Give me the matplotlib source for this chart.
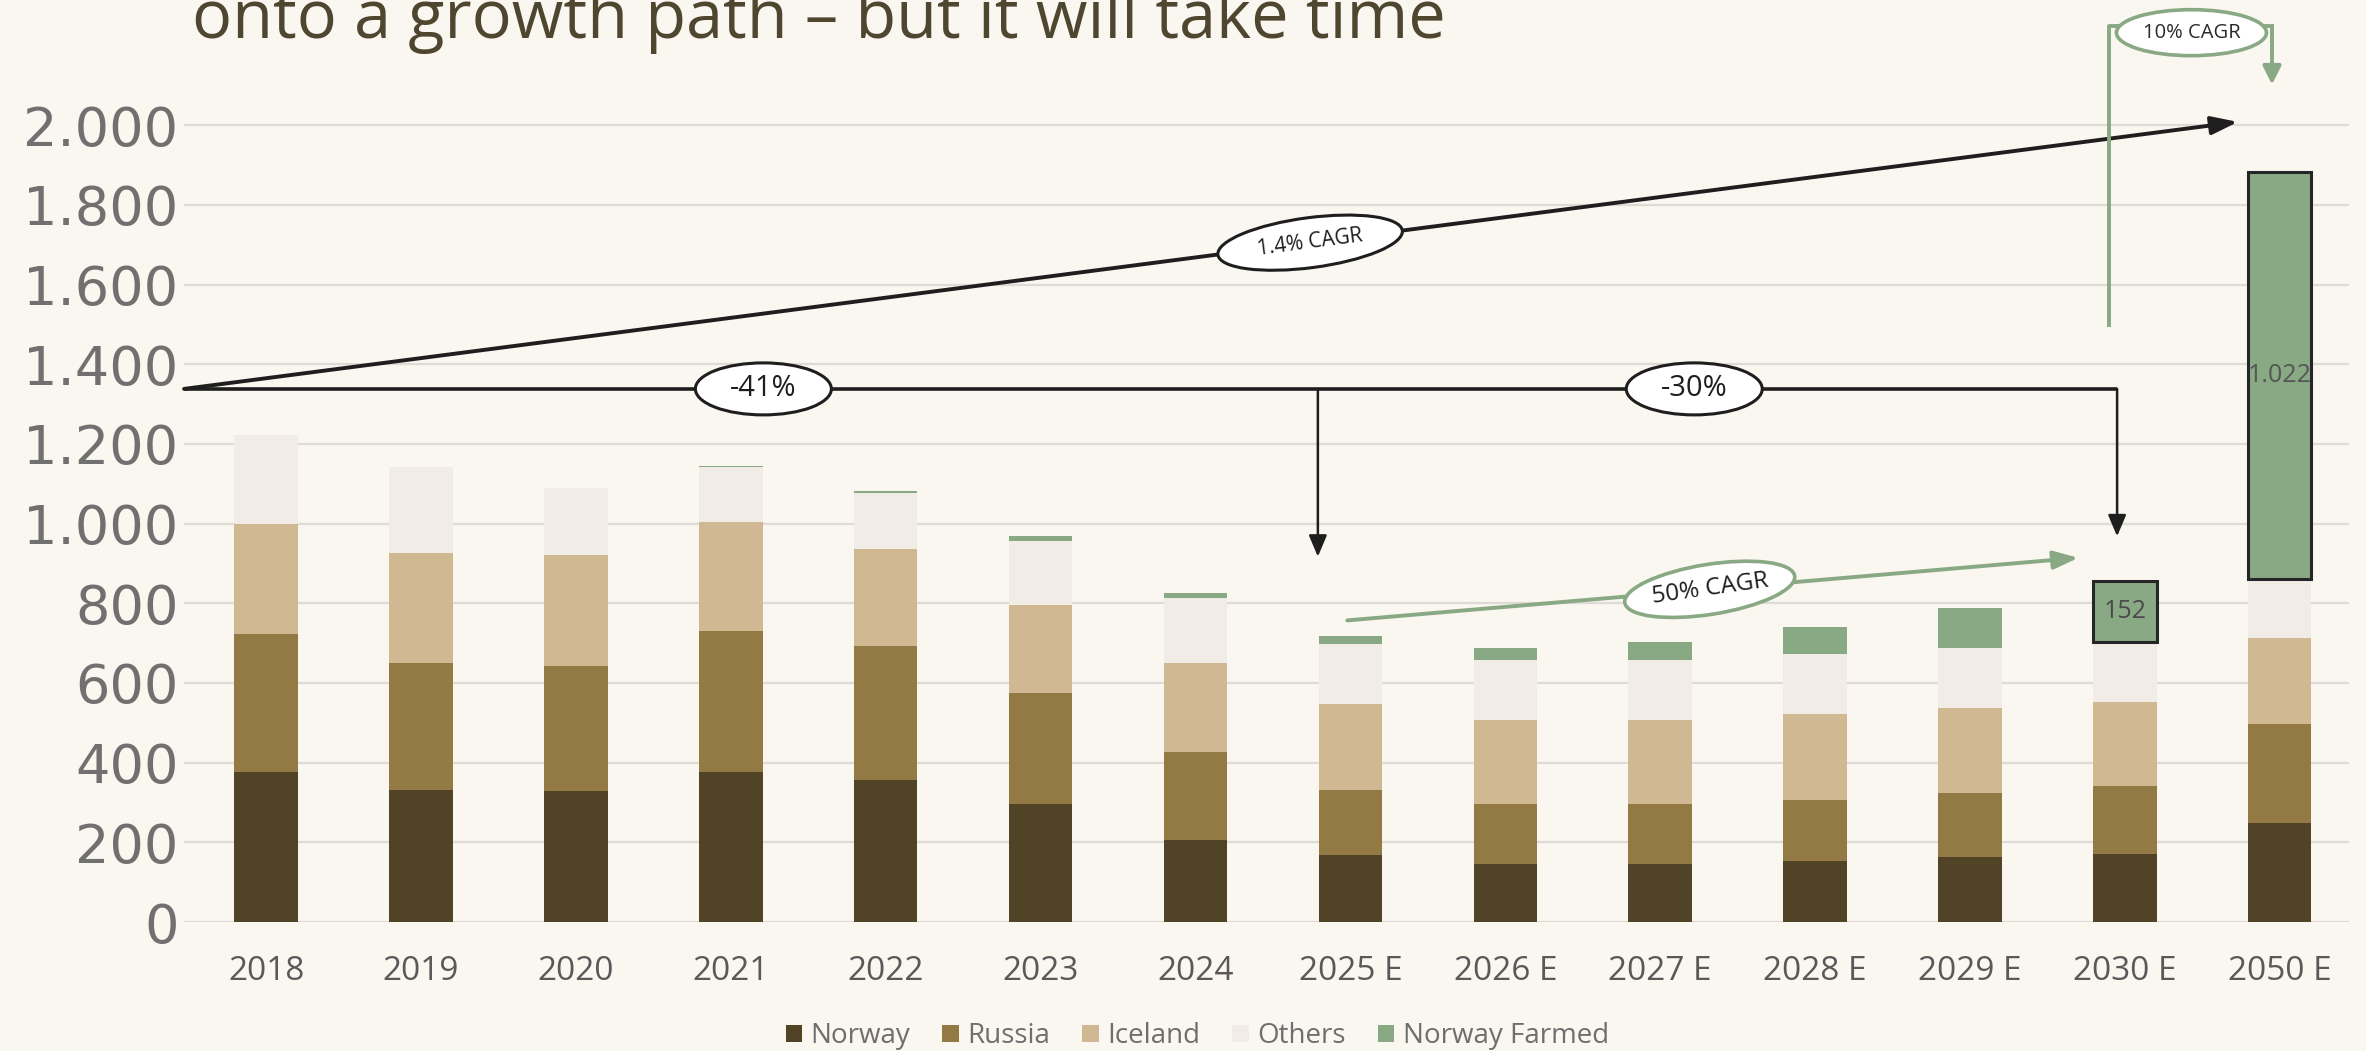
import matplotlib.pyplot as plt
import matplotlib.transforms as mtransforms
from matplotlib.patches import Ellipse
import numpy as np

# data (thousand tonnes)
years = ['2018', '2019', '2020', '2021', '2022', '2023', '2024',
         '2025 E', '2026 E', '2027 E', '2028 E', '2029 E', '2030 E', '2050 E']
norway = [377, 332, 330, 377, 357, 296, 206, 169, 146, 146, 153, 162, 170, 248]
russia = [345, 319, 313, 354, 335, 278, 221, 163, 149, 149, 154, 162, 171, 250]
iceland = [276, 274, 279, 272, 243, 221, 222, 216, 213, 213, 216, 214, 212, 214]
others = [225, 217, 167, 139, 141, 161, 163, 149, 150, 150, 150, 151, 151, 149]
farmed = [0, 0, 0, 2, 5, 12, 15, 21, 31, 45, 67, 99, 152, 1022]

bg = '#FAF6F0'
cols = ['#514325', '#937A45', '#D0B893', '#F1EDE6', '#88A983']
names = ['Norway', 'Russia', 'Iceland', 'Others', 'Norway Farmed']
green = '#88A983'
dark = '#1E1E1E'
font = 'Open Sans'

fig = plt.figure(figsize=(23.66, 10.51), dpi=100, facecolor=bg)
ax = fig.add_axes([0.0778, 0.1227, 0.9152, 0.8773])
ax.set_facecolor(bg)

x = np.arange(len(years))
bottom = np.zeros(len(years))
series = [norway, russia, iceland, others, farmed]
for i, vals in enumerate(series):
    if i == 4:
        ec = [cols[4]] * 12 + ['#262626'] * 2
        lw = [0] * 12 + [2.2] * 2
    else:
        ec = cols[i]
        lw = 0
    ax.bar(x, vals, 0.41, bottom=bottom, color=cols[i], edgecolor=ec,
           linewidth=lw, label=names[i], zorder=2)
    bottom += np.array(vals)

# labels in the farmed segments
ax.text(12, bottom[12] - farmed[12] / 2, str(farmed[12]), ha='center', va='center',
        fontsize=18, color='#4A4A4A', family=font, zorder=4)
ax.text(13, bottom[13] - farmed[13] / 2, f"{farmed[13]:,}".replace(',', '.'),
        ha='center', va='center', fontsize=18, color='#555555', family=font, zorder=4)

ax.set_xlim(-0.53, 13.45)
ax.set_ylim(0, 2314)
ax.set_yticks(range(0, 2001, 200))
ax.set_yticklabels([f"{v:,}".replace(',', '.') for v in range(0, 2001, 200)],
                   fontsize=39, color='#707070')
ax.set_xticks(x)
ax.set_xticklabels(years, fontsize=24, color='#595959', family=font)
ax.tick_params(length=0)
ax.tick_params(axis='y', pad=4)
ax.tick_params(axis='x', pad=24)
for s in ax.spines.values():
    s.set_visible(False)
ax.yaxis.grid(True, color='#DEDBD7', linewidth=1.6)
ax.set_axisbelow(True)


def oval(xc, yc, w, h, ang, ec, lw):
    # ellipse sized in pixels, centred on a data point
    tr = mtransforms.IdentityTransform() + mtransforms.ScaledTranslation(xc, yc, ax.transData)
    ax.add_patch(Ellipse((0, 0), w, h, angle=ang, transform=tr, fc='white', ec=ec,
                         lw=lw, zorder=6, clip_on=False))


def arrow(x0, y0, x1, y1, col, lw, hl, hw):
    ax.annotate('', xy=(x1, y1), xytext=(x0, y0),
                arrowprops=dict(arrowstyle=f'-|>,head_length={hl},head_width={hw}',
                                color=col, lw=lw, shrinkA=0, shrinkB=0),
                annotation_clip=False, zorder=5)


# black CAGR arrow
arrow(-0.53, 1338, 12.73, 2008, dark, 2.8, 1.6, 0.55)
oval(6.74, 1705, 186, 50, 7.5, dark, 2.2)
ax.text(6.74, 1705, '1.4% CAGR', ha='center', va='center', rotation=7.5,
        fontsize=15, family=font, color=dark, zorder=7)

# decline brackets
ax.plot([-0.53, 11.95], [1338, 1338], color=dark, lw=2.6, zorder=5,
        solid_capstyle='butt', clip_on=False)
arrow(11.95, 1338, 11.95, 968, dark, 1.8, 1.3, 0.55)
arrow(6.79, 1338, 6.79, 917, dark, 1.8, 1.3, 0.55)
for xp, lab in [(3.21, '-41%'), (9.22, '-30%')]:
    oval(xp, 1338, 136, 52, 0, dark, 2.2)
    ax.text(xp, 1338, lab, ha='center', va='center', fontsize=21, family=font,
            color=dark, zorder=7)

# green 50% CAGR arrow
arrow(6.98, 757, 11.70, 914, green, 2.8, 1.5, 0.55)
oval(9.32, 835, 172, 50, 9, green, 2.6)
ax.text(9.32, 835, '50% CAGR', ha='center', va='center', rotation=8,
        fontsize=17.5, family=font, color=dark, zorder=7)

# green 10% CAGR bracket
ax.plot([11.90, 11.90, 12.95], [1498, 2248, 2248], color=green, lw=2.8, zorder=5,
        clip_on=False)
arrow(12.95, 2248, 12.95, 2102, green, 2.8, 1.1, 0.55)
oval(12.43, 2232, 150, 46, 0, green, 2.6)
ax.text(12.43, 2232, '10% CAGR', ha='center', va='center', fontsize=14.5,
        family=font, color='#2A2A2A', zorder=7)

fig.text(0.081, 0.964, 'onto a growth path \u2013 but it will take time', ha='left',
         va='baseline', fontsize=48, color='#4F4630', family=font)

fig.legend(loc='center', bbox_to_anchor=(0.506, 0.014), ncol=5, frameon=False,
           prop={'family': font, 'size': 20}, labelcolor='#6E6E6E',
           handlelength=0.6, handleheight=0.6, handletextpad=0.3, columnspacing=1.15)

fig.savefig('out.png', dpi=100, facecolor=bg)
